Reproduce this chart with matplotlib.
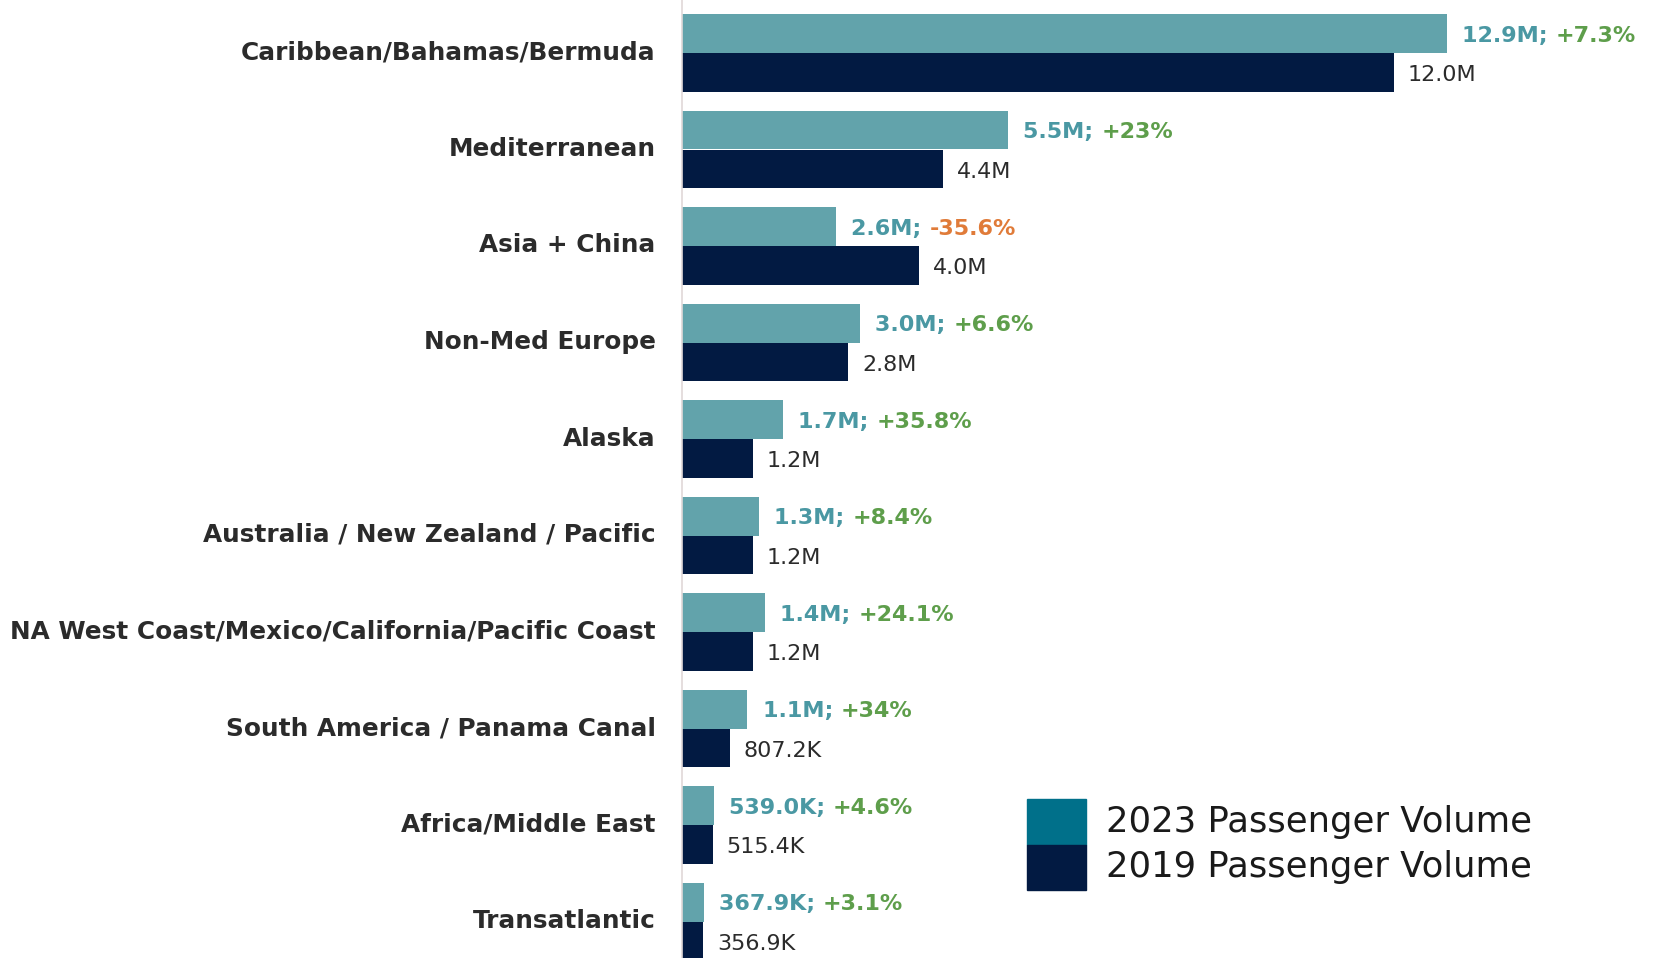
import matplotlib
matplotlib.use("Agg")
import matplotlib.pyplot as plt
from matplotlib.patches import Rectangle
from matplotlib.transforms import ScaledTranslation
import numpy as np

categories = [
    "Caribbean/Bahamas/Bermuda",
    "Mediterranean",
    "Asia + China",
    "Non-Med Europe",
    "Alaska",
    "Australia / New Zealand / Pacific",
    "NA West Coast/Mexico/California/Pacific Coast",
    "South America / Panama Canal",
    "Africa/Middle East",
    "Transatlantic",
]
vol_2023 = [12.9, 5.5, 2.6, 3.0, 1.7, 1.3, 1.4, 1.1, 0.539, 0.3679]
vol_2019 = [12.0, 4.4, 4.0, 2.8, 1.2, 1.2, 1.2, 0.8072, 0.5154, 0.3569]
labels_2023 = ["12.9M", "5.5M", "2.6M", "3.0M", "1.7M", "1.3M", "1.4M", "1.1M", "539.0K", "367.9K"]
labels_2019 = ["12.0M", "4.4M", "4.0M", "2.8M", "1.2M", "1.2M", "1.2M", "807.2K", "515.4K", "356.9K"]
changes = ["+7.3%", "+23%", "-35.6%", "+6.6%", "+35.8%", "+8.4%", "+24.1%", "+34%", "+4.6%", "+3.1%"]
legend_labels = ["2023 Passenger Volume", "2019 Passenger Volume"]

C23 = "#62a3ab"
C19 = "#021a42"
C23_LEG = "#00708a"
TEAL_TXT = "#4a98a3"
GREEN = "#5e9e4b"
ORANGE = "#e07b39"
DARK = "#2b2b2b"
FONT = "DejaVu Sans"

W, H = 1657, 958
fig = plt.figure(figsize=(W / 100, H / 100), dpi=100)
ax = fig.add_axes([682 / W, 0, 1 - 682 / W, 1])

y = np.arange(len(categories))
bh = 0.4
ax.barh(y - bh / 2, vol_2023, height=bh, color=C23)
ax.barh(y + bh / 2, vol_2019, height=bh, color=C19)

ax.set_xlim(0, (W - 682) / 59.3)
ax.set_ylim((H - 53) / 96.5, -53 / 96.5)

ax.set_yticks(y)
ax.set_yticklabels(categories, fontsize=17.8, fontweight="bold", color=DARK,
                   family=FONT)
ax.tick_params(axis="y", length=0, pad=19)
shift = ScaledTranslation(0, 3 / 100, fig.dpi_scale_trans)
for lbl in ax.get_yticklabels():
    lbl.set_transform(lbl.get_transform() + shift)
ax.set_xticks([])
for s in ["top", "right", "bottom"]:
    ax.spines[s].set_visible(False)
ax.spines["left"].set_color("#e0d8d8")
ax.spines["left"].set_linewidth(1.2)

fs_val = 16
for i in range(len(categories)):
    t1 = ax.annotate(labels_2023[i] + "; ", xy=(vol_2023[i], y[i] - bh / 2),
                     xytext=(11, -1.5), textcoords="offset points",
                     va="center", ha="left", fontsize=fs_val, fontweight="bold",
                     color=TEAL_TXT, family=FONT)
    col = ORANGE if changes[i].startswith("-") else GREEN
    ax.annotate(changes[i], xy=(1, 0), xycoords=t1, va="bottom", ha="left",
                fontsize=fs_val, fontweight="bold", color=col, family=FONT)
    ax.annotate(labels_2019[i], xy=(vol_2019[i], y[i] + bh / 2),
                xytext=(10, -2), textcoords="offset points",
                va="center", ha="left", fontsize=fs_val, color=DARK,
                family=FONT)

# legend
for k, (col, lab) in enumerate(zip([C23_LEG, C19], legend_labels)):
    top = 799 + 45.5 * k
    fig.patches.append(Rectangle((1027 / W, 1 - (top + 45.5) / H), 59 / W, 45.5 / H,
                                 transform=fig.transFigure, color=col))
    fig.text(1106 / W, 1 - (top + 23) / H, lab, fontsize=25.5, va="center",
             ha="left", color="#1a1a1a", family=FONT)

fig.savefig("out.png", dpi=100)
